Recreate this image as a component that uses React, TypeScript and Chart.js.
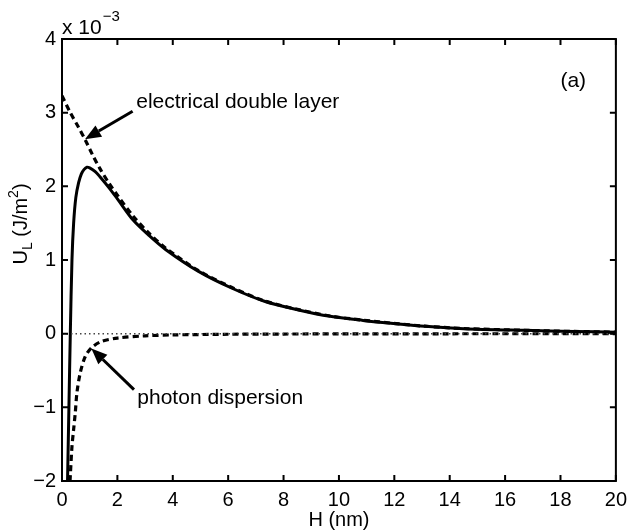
import React, { useEffect, useRef } from "react";
import { Chart, registerables } from "chart.js";

Chart.register(...registerables);

// ---- Data (values in units of 1e-3 J/m^2) ----
const totalH = [0.2, 0.25, 0.3, 0.36, 0.42, 0.5, 0.6, 0.7, 0.8, 0.9, 1.0, 1.2, 1.37, 1.7, 2.0, 2.56, 3.15, 3.75, 4.93, 6.12, 7.31, 8.5, 9.68, 10.87, 12.06, 13.1, 14.5, 16.7, 18.5, 20];
const totalU = [-2.0, -1.0, 0.0, 1.0, 1.5, 1.85, 2.05, 2.17, 2.23, 2.26, 2.25, 2.2, 2.13, 1.98, 1.83, 1.545, 1.33, 1.14, 0.845, 0.62, 0.44, 0.325, 0.235, 0.18, 0.135, 0.1, 0.068, 0.045, 0.03, 0.02];

const edlH = [0, 0.3, 0.6, 0.84, 1.1, 1.37, 1.7, 2.0, 2.56, 3.15, 3.75, 4.93, 6.12, 7.31, 8.5, 9.68, 10.87, 12.06, 13.1, 14.5, 16.7, 18.5, 20];
const edlU = [3.23, 3.0, 2.8, 2.63, 2.43, 2.24, 2.04, 1.88, 1.6, 1.36, 1.16, 0.855, 0.63, 0.445, 0.33, 0.24, 0.183, 0.137, 0.102, 0.07, 0.046, 0.03, 0.021];

const photonH = [0.29, 0.3, 0.36, 0.42, 0.48, 0.54, 0.66, 0.84, 1.07, 1.4, 2.0, 3.0, 4.0, 6.0, 8.0, 10.0, 14.0, 20.0];
const photonU = [-2.0, -1.93, -1.53, -1.3, -1.07, -0.8, -0.53, -0.31, -0.19, -0.11, -0.06, -0.03, -0.017, -0.008, -0.005, -0.003, -0.0015, -0.0008];

const zeroH = [0, 20];
const zeroU = [0, 0];

const xTicks = [0, 2, 4, 6, 8, 10, 12, 14, 16, 18, 20];
const yTicks = [-2, -1, 0, 1, 2, 3, 4];

const xLabel = "H (nm)";
const yLabelMain = "U";
const yLabelSub = "L";
const yLabelMid = " (J/m";
const yLabelSup = "2";
const yLabelEnd = ")";
const exponentBase = "x 10";
const exponentPow = "\u22123";
const panelLabel = "(a)";

// annotation text and arrows, in data coordinates
const edlText = { text: "electrical double layer", x: 2.68, y: 3.14 };
const edlArrow = { fromX: 2.55, fromY: 3.02, toX: 0.83, toY: 2.64 };
const photonText = { text: "photon dispersion", x: 2.72, y: -0.87 };
const photonArrow = { fromX: 2.6, fromY: -0.76, toX: 1.06, toY: -0.2 };
const panelPos = { x: 18.46, y: 3.43 };

const FONT = "'Liberation Sans', Arial, Helvetica, sans-serif";

const pts = (xs: number[], ys: number[]) => xs.map((x, i) => ({ x, y: ys[i] }));

function drawArrow(ctx: CanvasRenderingContext2D, x1: number, y1: number, x2: number, y2: number) {
  const ang = Math.atan2(y2 - y1, x2 - x1);
  const headLen = 16;
  const headW = 6.5;
  const bx = x2 - headLen * Math.cos(ang);
  const by = y2 - headLen * Math.sin(ang);
  ctx.save();
  ctx.strokeStyle = "#000";
  ctx.fillStyle = "#000";
  ctx.lineWidth = 3;
  ctx.setLineDash([]);
  ctx.beginPath();
  ctx.moveTo(x1, y1);
  ctx.lineTo(bx, by);
  ctx.stroke();
  ctx.beginPath();
  ctx.moveTo(x2, y2);
  ctx.lineTo(bx + headW * Math.sin(ang), by - headW * Math.cos(ang));
  ctx.lineTo(bx - headW * Math.sin(ang), by + headW * Math.cos(ang));
  ctx.closePath();
  ctx.fill();
  ctx.restore();
}

const decorPlugin = {
  id: "decor",
  afterDraw(chart: any) {
    const ctx: CanvasRenderingContext2D = chart.ctx;
    const { left, right, top, bottom } = chart.chartArea;
    const xs = chart.scales.x;
    const ys = chart.scales.y;
    ctx.save();
    // box
    ctx.strokeStyle = "#000";
    ctx.lineWidth = 2;
    ctx.setLineDash([]);
    ctx.strokeRect(left, top, right - left, bottom - top);
    // inward ticks
    const tl = 6;
    ctx.beginPath();
    xTicks.forEach((v) => {
      const px = xs.getPixelForValue(v);
      ctx.moveTo(px, bottom);
      ctx.lineTo(px, bottom - tl);
      ctx.moveTo(px, top);
      ctx.lineTo(px, top + tl);
    });
    yTicks.forEach((v) => {
      const py = ys.getPixelForValue(v);
      ctx.moveTo(left, py);
      ctx.lineTo(left + tl, py);
      ctx.moveTo(right, py);
      ctx.lineTo(right - tl, py);
    });
    ctx.stroke();

    // annotations
    ctx.fillStyle = "#000";
    ctx.font = `21px ${FONT}`;
    ctx.textBaseline = "middle";
    ctx.textAlign = "left";
    ctx.fillText(edlText.text, xs.getPixelForValue(edlText.x), ys.getPixelForValue(edlText.y));
    ctx.fillText(photonText.text, xs.getPixelForValue(photonText.x), ys.getPixelForValue(photonText.y));
    ctx.textAlign = "center";
    ctx.fillText(panelLabel, xs.getPixelForValue(panelPos.x), ys.getPixelForValue(panelPos.y));

    drawArrow(ctx, xs.getPixelForValue(edlArrow.fromX), ys.getPixelForValue(edlArrow.fromY), xs.getPixelForValue(edlArrow.toX), ys.getPixelForValue(edlArrow.toY));
    drawArrow(ctx, xs.getPixelForValue(photonArrow.fromX), ys.getPixelForValue(photonArrow.fromY), xs.getPixelForValue(photonArrow.toX), ys.getPixelForValue(photonArrow.toY));

    // exponent label
    ctx.textAlign = "left";
    ctx.textBaseline = "alphabetic";
    ctx.font = `21px ${FONT}`;
    ctx.fillText(exponentBase, left, top - 5);
    const w = ctx.measureText(exponentBase).width;
    ctx.font = `15px ${FONT}`;
    ctx.fillText(exponentPow, left + w + 1, top - 18);

    // x label
    ctx.font = `20px ${FONT}`;
    ctx.textAlign = "center";
    ctx.textBaseline = "alphabetic";
    ctx.fillText(xLabel, (left + right) / 2, 526);

    // y label (rotated with sub/superscript)
    ctx.save();
    ctx.translate(27, (top + bottom) / 2 - 36);
    ctx.rotate(-Math.PI / 2);
    ctx.textAlign = "left";
    const big = `20px ${FONT}`;
    const small = `14px ${FONT}`;
    ctx.font = big;
    const wU = ctx.measureText(yLabelMain).width;
    ctx.font = small;
    const wL = ctx.measureText(yLabelSub).width;
    ctx.font = big;
    const wMid = ctx.measureText(yLabelMid).width;
    ctx.font = small;
    const wSup = ctx.measureText(yLabelSup).width;
    ctx.font = big;
    const wEnd = ctx.measureText(yLabelEnd).width;
    const total = wU + wL + wMid + wSup + wEnd;
    let cx = -total / 2;
    ctx.font = big;
    ctx.fillText(yLabelMain, cx, 0);
    cx += wU;
    ctx.font = small;
    ctx.fillText(yLabelSub, cx, 5);
    cx += wL;
    ctx.font = big;
    ctx.fillText(yLabelMid, cx, 0);
    cx += wMid;
    ctx.font = small;
    ctx.fillText(yLabelSup, cx, -9);
    cx += wSup;
    ctx.font = big;
    ctx.fillText(yLabelEnd, cx, 0);
    ctx.restore();

    ctx.restore();
  },
};

export default function App() {
  const ref = useRef<HTMLCanvasElement | null>(null);
  useEffect(() => {
    if (!ref.current) return;
    const chart = new Chart(ref.current, {
      type: "scatter",
      data: {
        datasets: [
          {
            label: "zero",
            data: pts(zeroH, zeroU),
            showLine: true,
            borderColor: "#444",
            borderWidth: 1.5,
            borderDash: [1.5, 3],
            pointRadius: 0,
          },
          {
            label: "electrical double layer",
            data: pts(edlH, edlU),
            showLine: true,
            borderColor: "#000",
            borderWidth: 3.2,
            borderDash: [6, 4],
            pointRadius: 0,
            tension: 0.3,
          },
          {
            label: "photon dispersion",
            data: pts(photonH, photonU),
            showLine: true,
            borderColor: "#000",
            borderWidth: 3.2,
            borderDash: [6, 4],
            pointRadius: 0,
            tension: 0.3,
          },
          {
            label: "total",
            data: pts(totalH, totalU),
            showLine: true,
            borderColor: "#000",
            borderWidth: 3,
            pointRadius: 0,
            tension: 0.3,
          },
        ],
      },
      options: {
        animation: false,
        responsive: false,
        maintainAspectRatio: false,
        layout: { padding: { top: 39, right: 11, left: 0, bottom: 0 } },
        plugins: { legend: { display: false }, tooltip: { enabled: false } },
        scales: {
          x: {
            type: "linear",
            min: 0,
            max: 20,
            afterFit: (s: any) => {
              s.height = 50;
            },
            afterBuildTicks: (s: any) => {
              s.ticks = xTicks.map((v) => ({ value: v }));
            },
            ticks: {
              color: "#000",
              font: { size: 20, family: FONT },
              padding: 7,
              maxRotation: 0,
              autoSkip: false,
            },
            grid: { display: false, drawTicks: false },
            border: { display: false },
          },
          y: {
            type: "linear",
            min: -2,
            max: 4,
            afterFit: (s: any) => {
              s.width = 62;
            },
            afterBuildTicks: (s: any) => {
              s.ticks = yTicks.map((v) => ({ value: v }));
            },
            ticks: {
              color: "#000",
              font: { size: 20, family: FONT },
              padding: 6,
              callback: (v: any) => (v < 0 ? "\u2212" + Math.abs(v) : String(v)),
            },
            grid: { display: false, drawTicks: false },
            border: { display: false },
          },
        },
      },
      plugins: [decorPlugin],
    });
    return () => chart.destroy();
  }, []);
  return (
    <div style={{ position: "fixed", left: 0, top: 0, width: 634, height: 531, background: "#fff" }}>
      <canvas ref={ref} width={634} height={531} style={{ display: "block", width: 634, height: 531 }} />
    </div>
  );
}
